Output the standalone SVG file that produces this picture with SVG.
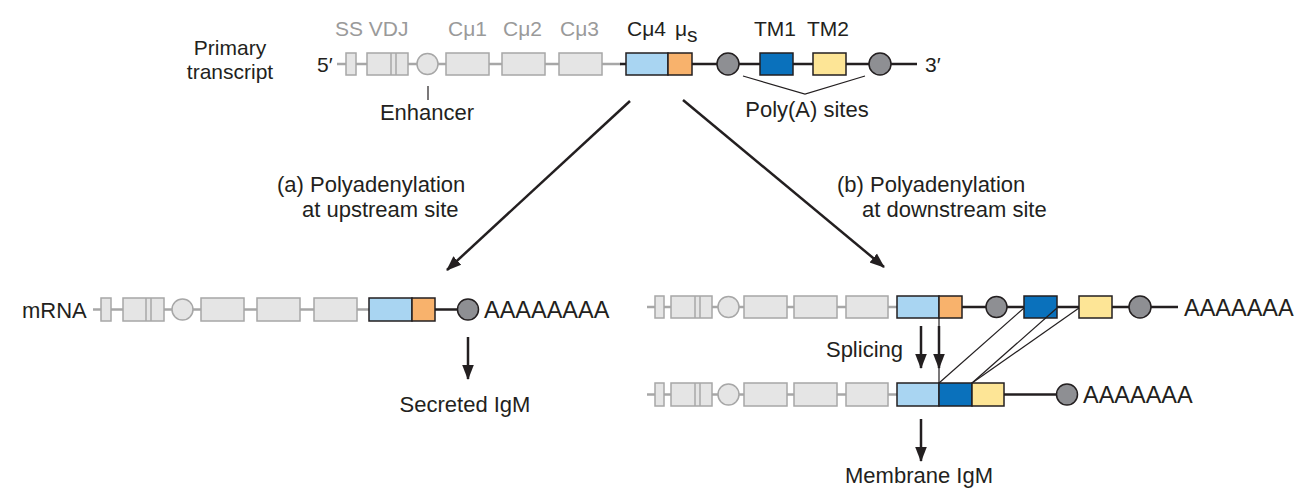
<svg xmlns="http://www.w3.org/2000/svg" width="1311" height="494" viewBox="0 0 1311 494">
<style>
.g{fill:#e5e5e5;stroke:#a7a7a7;stroke-width:1.5}
.gi{stroke:#a7a7a7;stroke-width:1.5}
.gl{stroke:#a7a7a7;stroke-width:2.5;fill:none}
.bl{stroke:#231f20;stroke-width:2.5;fill:none}
.lb{fill:#a9d5f2;stroke:#231f20;stroke-width:1.5}
.or{fill:#f8b26c;stroke:#231f20;stroke-width:1.5}
.db{fill:#0a71bc;stroke:#231f20;stroke-width:1.5}
.ye{fill:#fde596;stroke:#231f20;stroke-width:1.5}
.pa{fill:#8e8f93;stroke:#231f20;stroke-width:1.5}
.thin{stroke:#231f20;stroke-width:1.2;fill:none}
.arr{stroke:#231f20;stroke-width:2.5;fill:none}
.t{font-family:"Liberation Sans",Arial,sans-serif;font-size:22px;fill:#231f20}
.ts{font-family:"Liberation Sans",Arial,sans-serif;font-size:21px;fill:#231f20}
.tg{font-family:"Liberation Sans",Arial,sans-serif;font-size:21px;fill:#9a9a9a}
.a{font-family:"Liberation Sans",Arial,sans-serif;font-size:23.5px;fill:#231f20}
</style>
<defs>
<marker id="ah" markerUnits="userSpaceOnUse" markerWidth="15" markerHeight="14" viewBox="0 0 15 14" refX="14" refY="7" orient="auto">
<path d="M0,1.2 L15,7 L0,12.8 Z" fill="#231f20"/>
</marker>
</defs>

<g id="labels-top">
<text class="ts" x="230" y="55" text-anchor="middle" font-size="20">Primary</text>
<text class="ts" x="230" y="79" text-anchor="middle" font-size="20.5">transcript</text>
<text class="tg" x="335" y="36">SS VDJ</text>
<text class="tg" x="448" y="36">Cμ1</text>
<text class="tg" x="503" y="36">Cμ2</text>
<text class="tg" x="560" y="36">Cμ3</text>
<text class="ts" x="627" y="36">Cμ4</text>
<text class="ts" x="675" y="36">μ<tspan dy="6">s</tspan></text>
<text class="ts" x="754" y="36">TM1</text>
<text class="ts" x="807" y="36">TM2</text>
<text class="ts" x="317" y="72">5′</text>
<text class="ts" x="925" y="72">3′</text>
</g>

<g id="primary-transcript">
<line class="gl" x1="337" y1="64" x2="621" y2="64"/>
<line class="bl" x1="620" y1="64" x2="917" y2="64"/>
<rect class="g" x="346" y="53" width="10" height="22"/>
<rect class="g" x="367" y="53" width="41" height="22"/>
<line class="gi" x1="391" y1="53" x2="391" y2="75"/>
<line class="gi" x1="396" y1="53" x2="396" y2="75"/>
<circle class="g" cx="427.5" cy="64" r="10.5"/>
<rect class="g" x="446" y="53" width="43" height="22"/>
<rect class="g" x="502" y="53" width="43" height="22"/>
<rect class="g" x="559" y="53" width="43" height="22"/>
<rect class="lb" x="626" y="53" width="42" height="22"/>
<rect class="or" x="668" y="53" width="24" height="22"/>
<circle class="pa" cx="728" cy="64" r="11"/>
<rect class="db" x="760" y="53" width="33" height="22"/>
<rect class="ye" x="813" y="53" width="33" height="22"/>
<circle class="pa" cx="880" cy="64" r="11"/>
</g>

<g id="enhancer-label">
<line class="thin" x1="428" y1="86" x2="428" y2="100"/>
<text class="t" x="427" y="120" text-anchor="middle">Enhancer</text>
</g>

<g id="polya-label">
<polyline class="thin" points="743,76 805,94 865,76"/>
<text class="t" x="807" y="117" text-anchor="middle" font-size="22.5">Poly(A) sites</text>
</g>

<g id="label-a">
<text class="t" x="277" y="192">(a) Polyadenylation</text>
<text class="t" x="302" y="217">at upstream site</text>
</g>
<g id="label-b">
<text class="t" x="837" y="192">(b) Polyadenylation</text>
<text class="t" x="862" y="217">at downstream site</text>
</g>

<g id="mrna-a">
<text class="t" x="22" y="318">mRNA</text>
<line class="gl" x1="93" y1="309.5" x2="370" y2="309.5"/>
<line class="bl" x1="435" y1="309.5" x2="460" y2="309.5"/>
<rect class="g" x="101" y="298" width="10" height="23"/>
<rect class="g" x="123" y="298" width="41" height="23"/>
<line class="gi" x1="146" y1="298" x2="146" y2="321"/>
<line class="gi" x1="151" y1="298" x2="151" y2="321"/>
<circle class="g" cx="182.5" cy="309.5" r="10.5"/>
<rect class="g" x="201" y="298" width="43" height="23"/>
<rect class="g" x="257" y="298" width="43" height="23"/>
<rect class="g" x="314" y="298" width="43" height="23"/>
<rect class="lb" x="369" y="298" width="43" height="23"/>
<rect class="or" x="412" y="298" width="23" height="23"/>
<circle class="pa" cx="468" cy="309.5" r="10.5"/>
<text class="a" x="484" y="318">AAAAAAAA</text>
</g>

<g id="mrna-b1">
<line class="gl" x1="647" y1="307" x2="898" y2="307"/>
<line class="bl" x1="962" y1="307" x2="1178" y2="307"/>
<rect class="g" x="655" y="296" width="9" height="22"/>
<rect class="g" x="671" y="296" width="41" height="22"/>
<line class="gi" x1="695" y1="296" x2="695" y2="318"/>
<line class="gi" x1="700" y1="296" x2="700" y2="318"/>
<circle class="g" cx="728.5" cy="307" r="10.5"/>
<rect class="g" x="744" y="296" width="43" height="22"/>
<rect class="g" x="794" y="296" width="43" height="22"/>
<rect class="g" x="846" y="296" width="42" height="22"/>
<rect class="lb" x="897" y="296" width="42" height="22"/>
<rect class="or" x="939" y="296" width="23" height="22"/>
<circle class="pa" cx="996.5" cy="307" r="10.5"/>
<rect class="db" x="1024" y="296" width="33" height="22"/>
<rect class="ye" x="1079" y="296" width="33" height="22"/>
<circle class="pa" cx="1140" cy="307" r="11"/>
<text class="a" x="1184" y="315.5">AAAAAAA</text>
</g>

<g id="mrna-b2">
<line class="gl" x1="647" y1="394.5" x2="898" y2="394.5"/>
<line class="bl" x1="1004" y1="394.5" x2="1058" y2="394.5"/>
<rect class="g" x="655" y="383" width="9" height="23"/>
<rect class="g" x="671" y="383" width="41" height="23"/>
<line class="gi" x1="695" y1="383" x2="695" y2="406"/>
<line class="gi" x1="700" y1="383" x2="700" y2="406"/>
<circle class="g" cx="728.5" cy="394.5" r="10.5"/>
<rect class="g" x="744" y="383" width="43" height="23"/>
<rect class="g" x="794" y="383" width="43" height="23"/>
<rect class="g" x="846" y="383" width="42" height="23"/>
<rect class="lb" x="897" y="383" width="42" height="23"/>
<rect class="db" x="939" y="383" width="33" height="23"/>
<rect class="ye" x="972" y="383" width="32" height="23"/>
<circle class="pa" cx="1067" cy="394.5" r="10.5"/>
<text class="a" x="1083" y="403">AAAAAAA</text>
</g>

<g id="connectors">
<line class="arr" x1="630" y1="101" x2="447" y2="270" marker-end="url(#ah)"/>
<line class="arr" x1="683" y1="100" x2="884" y2="267" marker-end="url(#ah)"/>
<line class="arr" x1="468" y1="337" x2="468" y2="379" marker-end="url(#ah)"/>
<line class="arr" x1="921" y1="326" x2="921" y2="368" marker-end="url(#ah)"/>
<line class="thin" x1="939" y1="318" x2="939" y2="383"/>
<line class="arr" x1="939" y1="326" x2="939" y2="368" marker-end="url(#ah)"/>
<line class="thin" x1="1024" y1="308" x2="939" y2="383"/>
<line class="thin" x1="1057" y1="308" x2="972" y2="383"/>
<line class="thin" x1="1079" y1="308" x2="972" y2="383"/>
<line class="arr" x1="921" y1="419" x2="921" y2="461" marker-end="url(#ah)"/>
</g>

<g id="result-labels">
<text class="t" x="903" y="357" text-anchor="end" font-size="22.5">Splicing</text>
<text class="t" x="465" y="412" text-anchor="middle" font-size="22.5">Secreted IgM</text>
<text class="t" x="919" y="483" text-anchor="middle" font-size="22.5">Membrane IgM</text>
</g>
</svg>
